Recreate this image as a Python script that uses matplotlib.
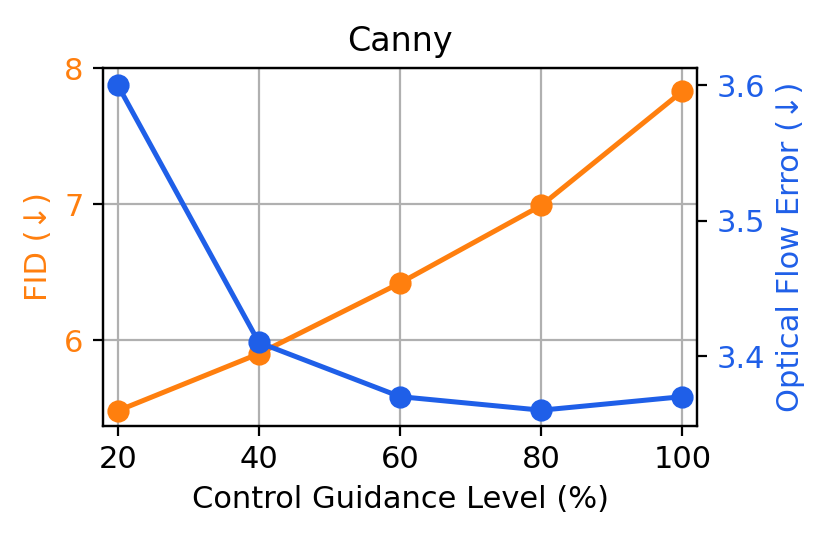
import matplotlib
matplotlib.use("Agg")
import matplotlib.pyplot as plt

levels = [20, 40, 60, 80, 100]
fid = [5.48, 5.90, 6.42, 6.99, 7.83]
flow_err = [3.60, 3.41, 3.37, 3.36, 3.37]

orange = '#ff7f0e'
blue = '#1f5fe8'

plt.rcParams['font.family'] = ['DejaVu Sans']
plt.rcParams['font.size'] = 11

fig = plt.figure(figsize=(4.15, 2.705), dpi=200)
ax = fig.add_axes([0.124, 0.213, 0.716, 0.661])
ax.plot(levels, fid, '-o', color=orange, lw=1.8, ms=7)
ax.set_ylabel('FID (↓)', color=orange)
ax.tick_params(axis='y', labelcolor=orange)
ax.set_xlabel('Control Guidance Level (%)')
ax.set_title('Canny', fontsize=12)
ax.set_xlim(17.9, 102.1)
ax.set_ylim(5.37, 8.0)
ax.set_xticks(levels)
ax.set_yticks([6, 7, 8])
ax.grid(True)

ax2 = ax.twinx()
ax2.plot(levels, flow_err, '-o', color=blue, lw=1.8, ms=7)
ax2.set_ylabel('Optical Flow Error (↓)', color=blue)
ax2.tick_params(axis='y', labelcolor=blue)
ax2.set_ylim(3.3485, 3.6125)
ax2.set_yticks([3.4, 3.5, 3.6])

fig.savefig('out.png', dpi=200)
